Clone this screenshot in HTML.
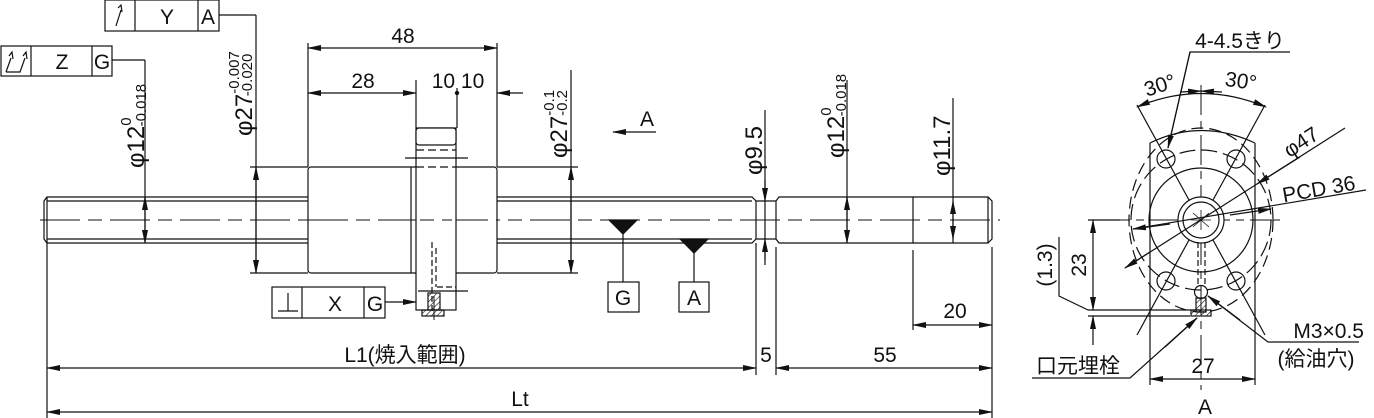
<!DOCTYPE html>
<html><head><meta charset="utf-8">
<style>
html,body{margin:0;padding:0;background:#fff;}
svg{display:block;}
text{font-family:"Liberation Sans","Noto Sans CJK JP",sans-serif;fill:#111;}
</style></head>
<body>
<svg width="1374" height="418" viewBox="0 0 1374 418" xmlns="http://www.w3.org/2000/svg">
<defs>
<marker id="a" markerWidth="14" markerHeight="6" refX="13" refY="3" orient="auto-start-reverse" markerUnits="userSpaceOnUse">
<path d="M0,0 L14,3 L0,6 Z" fill="#111"/></marker>
<pattern id="h" width="4" height="4" patternUnits="userSpaceOnUse" patternTransform="rotate(45)">
<line x1="0" y1="0" x2="0" y2="4" stroke="#111" stroke-width="1.2"/></pattern>
</defs>
<g stroke="#111" stroke-width="1.2" fill="none">
<line x1="40" y1="220" x2="1000" y2="220" stroke-dasharray="40,8,14,8" stroke-width="1"/>
<path d="M47,197 L752,197 L756,201 L756,239 L752,243 L47,243 L44,239 L44,201 Z"/>
<line x1="47" y1="201" x2="752" y2="201"/>
<line x1="47" y1="239" x2="752" y2="239"/>
<line x1="47" y1="197" x2="47" y2="243"/>
<line x1="756" y1="201" x2="776" y2="201"/>
<line x1="756" y1="239" x2="776" y2="239"/>
<path d="M776,201 L779,197 L913,197 L913,243 L779,243 L776,239 Z"/>
<path d="M913,197 L988,197 L992,201 L992,239 L988,243 L913,243"/>
<line x1="988" y1="197" x2="988" y2="243"/>
<rect x="308" y="167" width="189" height="106" rx="3" fill="#fff"/>
<line x1="411" y1="167" x2="411" y2="273"/>
<line x1="308" y1="220" x2="497" y2="220" stroke-dasharray="40,8,14,8" stroke-width="1"/>
<rect x="416" y="128" width="40" height="182" fill="#fff"/>
<rect x="416" y="128" width="40" height="17" rx="3" fill="#fff"/>
<line x1="416" y1="150" x2="456" y2="150" stroke-dasharray="8,4"/>
<line x1="405" y1="158" x2="468" y2="158"/>
<line x1="416" y1="167" x2="456" y2="167" stroke-dasharray="8,4"/>
<line x1="420" y1="220" x2="452" y2="220" stroke-dasharray="14,8" stroke-width="1"/>
<line x1="432" y1="242" x2="432" y2="312" stroke-dasharray="6,3"/>
<line x1="436" y1="248" x2="436" y2="287" stroke-dasharray="6,3"/>
<line x1="437" y1="287" x2="456" y2="287" stroke-dasharray="6,3"/>
<line x1="418" y1="291" x2="468" y2="291"/>
<rect x="428" y="293" width="12" height="17" fill="url(#h)"/>
<rect x="422" y="310" width="22" height="6" fill="url(#h)"/>
<line x1="434" y1="296" x2="434" y2="320" stroke-width="1"/>
<line x1="308" y1="43" x2="308" y2="167"/>
<line x1="497" y1="43" x2="497" y2="167"/>
<line x1="308" y1="48" x2="497" y2="48" marker-start="url(#a)" marker-end="url(#a)"/>
<line x1="308" y1="93" x2="416" y2="93" marker-start="url(#a)" marker-end="url(#a)"/>
<line x1="416" y1="80" x2="416" y2="128"/>
<line x1="457" y1="88" x2="457" y2="128"/>
<line x1="497" y1="93" x2="523" y2="93" marker-start="url(#a)"/>
<circle cx="457" cy="93" r="1.6" fill="#111"/>
<line x1="219" y1="15" x2="256" y2="15"/>
<line x1="256" y1="15" x2="256" y2="273" />
<line x1="256" y1="167" x2="256" y2="273" marker-start="url(#a)" marker-end="url(#a)"/>
<line x1="250" y1="167" x2="308" y2="167"/>
<line x1="250" y1="273" x2="308" y2="273"/>
<line x1="497" y1="167" x2="578" y2="167"/>
<line x1="497" y1="273" x2="578" y2="273"/>
<line x1="571" y1="70" x2="571" y2="273"/>
<line x1="571" y1="167" x2="571" y2="273" marker-start="url(#a)" marker-end="url(#a)"/>
<line x1="112" y1="60" x2="145" y2="60"/>
<line x1="145" y1="60" x2="145" y2="243"/>
<line x1="145" y1="197" x2="145" y2="243" marker-start="url(#a)" marker-end="url(#a)"/>
<rect x="105" y="0" width="114" height="31"/>
<line x1="135" y1="0" x2="135" y2="31"/><line x1="198" y1="0" x2="198" y2="31"/>
<rect x="1" y="46" width="111" height="30"/>
<line x1="31" y1="46" x2="31" y2="76"/><line x1="92" y1="46" x2="92" y2="76"/>
<rect x="272" y="287" width="113" height="31"/>
<line x1="302" y1="287" x2="302" y2="318"/><line x1="364" y1="287" x2="364" y2="318"/>
<line x1="385" y1="302" x2="416" y2="302" marker-end="url(#a)"/>
<path d="M116,26 L121,10 M118,8 L121,5 L122,12" />
<path d="M6,72 L11,58 M9,56 L12,52 L13,59 M6,72 L20,72 L25,58 M23,56 L26,52 L27,59"/>
<path d="M278,311 L298,311 M288,293 L288,311"/>
<path d="M609,220 L637,220 L623,234 Z" fill="#111"/>
<line x1="623" y1="234" x2="623" y2="282"/>
<rect x="608" y="282" width="31" height="30"/>
<path d="M680,239 L708,239 L694,253 Z" fill="#111"/>
<line x1="694" y1="253" x2="694" y2="282"/>
<rect x="679" y="282" width="30" height="30"/>
<line x1="613" y1="132" x2="656" y2="132" marker-start="url(#a)"/>
<line x1="765" y1="110" x2="765" y2="265"/>
<line x1="765" y1="180" x2="765" y2="201" marker-end="url(#a)"/>
<line x1="765" y1="260" x2="765" y2="239" marker-end="url(#a)"/>
<line x1="847" y1="80" x2="847" y2="243"/>
<line x1="847" y1="197" x2="847" y2="243" marker-start="url(#a)" marker-end="url(#a)"/>
<line x1="953" y1="98" x2="953" y2="243"/>
<line x1="953" y1="201" x2="953" y2="239" marker-start="url(#a)" marker-end="url(#a)"/>
<line x1="47" y1="243" x2="47" y2="418"/>
<line x1="756" y1="243" x2="756" y2="375"/>
<line x1="776" y1="247" x2="776" y2="375"/>
<line x1="913" y1="250" x2="913" y2="330"/>
<line x1="992" y1="247" x2="992" y2="418"/>
<line x1="913" y1="325" x2="992" y2="325" marker-start="url(#a)" marker-end="url(#a)"/>
<line x1="47" y1="368" x2="756" y2="368" marker-start="url(#a)" marker-end="url(#a)"/>
<line x1="776" y1="368" x2="992" y2="368" marker-start="url(#a)" marker-end="url(#a)"/>
<line x1="47" y1="412" x2="992" y2="412" marker-start="url(#a)" marker-end="url(#a)"/>

<!-- END VIEW -->
<line x1="1201" y1="85" x2="1201" y2="390" stroke-dasharray="30,6,8,6" stroke-width="1"/>
<line x1="1100" y1="220" x2="1283" y2="220" stroke-dasharray="30,6,8,6" stroke-width="1"/>
<ellipse cx="1201" cy="220" rx="72" ry="92" stroke-dasharray="12,6"/>
<line x1="1150" y1="143" x2="1150" y2="385"/>
<line x1="1255" y1="143" x2="1255" y2="385"/>
<path d="M1150,143 Q1201,118 1255,143"/>
<circle cx="1201" cy="220" r="70" stroke-dasharray="16,6"/>
<circle cx="1201" cy="220" r="52"/>
<circle cx="1201" cy="220" r="23" fill="#fff"/>
<circle cx="1201" cy="220" r="18"/>
<circle cx="1166" cy="159" r="9"/><circle cx="1236" cy="159" r="9"/>
<circle cx="1166" cy="281" r="9"/><circle cx="1236" cy="281" r="9"/>
<line x1="1137" y1="105" x2="1189" y2="200"/>
<line x1="1265" y1="105" x2="1213" y2="200"/>
<line x1="1137" y1="335" x2="1189" y2="240"/>
<line x1="1265" y1="335" x2="1213" y2="240"/>
<path d="M1193,213 L1209,227 M1209,213 L1193,227 M1201,210 L1201,230 M1191,220 L1211,220" stroke-width="0.8"/>
<path d="M1137,107 Q1201,80 1266,107" marker-start="url(#a)" marker-end="url(#a)"/>
<line x1="1180" y1="92" x2="1201" y2="91" marker-end="url(#a)"/>
<line x1="1222" y1="92" x2="1201" y2="91" marker-end="url(#a)"/>
<polyline points="1168,148 1190,52 1290,52" />
<line x1="1190" y1="52" x2="1168" y2="148" marker-end="url(#a)"/>
<line x1="1125" y1="268" x2="1345" y2="128"/>
<line x1="1300" y1="157" x2="1257" y2="184" marker-end="url(#a)"/>
<line x1="1150" y1="252" x2="1125" y2="268" marker-end="url(#a)"/>
<line x1="1133" y1="229" x2="1366" y2="190"/>
<line x1="1170" y1="224" x2="1133" y2="229" marker-end="url(#a)"/>
<line x1="1230" y1="215" x2="1271" y2="209" marker-end="url(#a)"/>
<line x1="1198" y1="242" x2="1198" y2="286" stroke-dasharray="6,3"/>
<line x1="1205" y1="242" x2="1205" y2="286" stroke-dasharray="6,3"/>
<circle cx="1201" cy="292" r="6.5"/>
<rect x="1196" y="298" width="10" height="14" fill="url(#h)"/>
<rect x="1191" y="310" width="20" height="6" fill="url(#h)"/>
<line x1="1088" y1="220" x2="1120" y2="220"/>
<line x1="1088" y1="310" x2="1200" y2="310"/>
<line x1="1088" y1="316" x2="1190" y2="316"/>
<line x1="1093" y1="220" x2="1093" y2="310" marker-start="url(#a)" marker-end="url(#a)"/>
<line x1="1093" y1="345" x2="1093" y2="316" marker-end="url(#a)"/>
<polyline points="1059,237 1059,296 1088,310"/>
<polyline points="1359,342 1268,342 1208,296"/>
<line x1="1240" y1="320" x2="1208" y2="296" marker-end="url(#a)"/>
<polyline points="1032,378 1130,378 1197,318"/>
<line x1="1165" y1="347" x2="1197" y2="318" marker-end="url(#a)"/>
<line x1="1150" y1="379" x2="1255" y2="379" marker-start="url(#a)" marker-end="url(#a)"/>
</g>

<g font-size="21">
<text x="403" y="43" text-anchor="middle">48</text>
<text x="363" y="88" text-anchor="middle">28</text>
<text x="458" y="88" text-anchor="middle">10 10</text>
<text x="167" y="24" text-anchor="middle">Y</text>
<text x="208" y="24" text-anchor="middle">A</text>
<text x="62" y="69" text-anchor="middle">Z</text>
<text x="102" y="69" text-anchor="middle">G</text>
<text x="335" y="311" text-anchor="middle">X</text>
<text x="375" y="311" text-anchor="middle">G</text>
<text x="623" y="305" text-anchor="middle">G</text>
<text x="694" y="305" text-anchor="middle">A</text>
<text x="647" y="126" text-anchor="middle">A</text>
<text x="955" y="318" text-anchor="middle">20</text>
<text x="766" y="362" text-anchor="middle">5</text>
<text x="885" y="362" text-anchor="middle">55</text>
<text x="405" y="362" text-anchor="middle">L1(焼入範囲)</text>
<text x="520" y="406" text-anchor="middle">Lt</text>
<text x="1203" y="373" text-anchor="middle">27</text>
<text x="1205" y="414" text-anchor="middle">A</text>
<text x="1240" y="48" text-anchor="middle">4-4.5きり</text>
<text x="1364" y="338" text-anchor="end">M3×0.5</text>
<text x="1316" y="366" text-anchor="middle">(給油穴)</text>
<text x="1078" y="373" text-anchor="middle">口元埋栓</text>
<text transform="translate(1162,92) rotate(-18)" text-anchor="middle">30°</text>
<text transform="translate(1240,88) rotate(8)" text-anchor="middle">30°</text>
<text transform="translate(1305,148) rotate(-33)" text-anchor="middle">φ47</text>
<text transform="translate(1320,196) rotate(-10)" text-anchor="middle">PCD 36</text>
<text transform="translate(1086,265) rotate(-90)" text-anchor="middle">23</text>
<text transform="translate(1052,265) rotate(-90)" text-anchor="middle">(1.3)</text>
</g>
<g font-size="24">
<text transform="translate(144,168) rotate(-90)">φ12<tspan font-size="15" dy="-13">0</tspan><tspan font-size="15" dx="-9" dy="15">-0.018</tspan></text>
<text transform="translate(252,136) rotate(-90)">φ27<tspan font-size="15" dy="-13">-0.007</tspan><tspan font-size="15" dx="-45" dy="13">-0.020</tspan></text>
<text transform="translate(567,158) rotate(-90)">φ27<tspan font-size="15" dy="-13">-0.1</tspan><tspan font-size="15" dx="-26" dy="13">-0.2</tspan></text>
<text transform="translate(762,175) rotate(-90)">φ9.5</text>
<text transform="translate(844,158) rotate(-90)">φ12<tspan font-size="15" dy="-13">0</tspan><tspan font-size="15" dx="-9" dy="15">-0.018</tspan></text>
<text transform="translate(950,176) rotate(-90)">φ11.7</text>
</g>
</svg>
</body></html>
